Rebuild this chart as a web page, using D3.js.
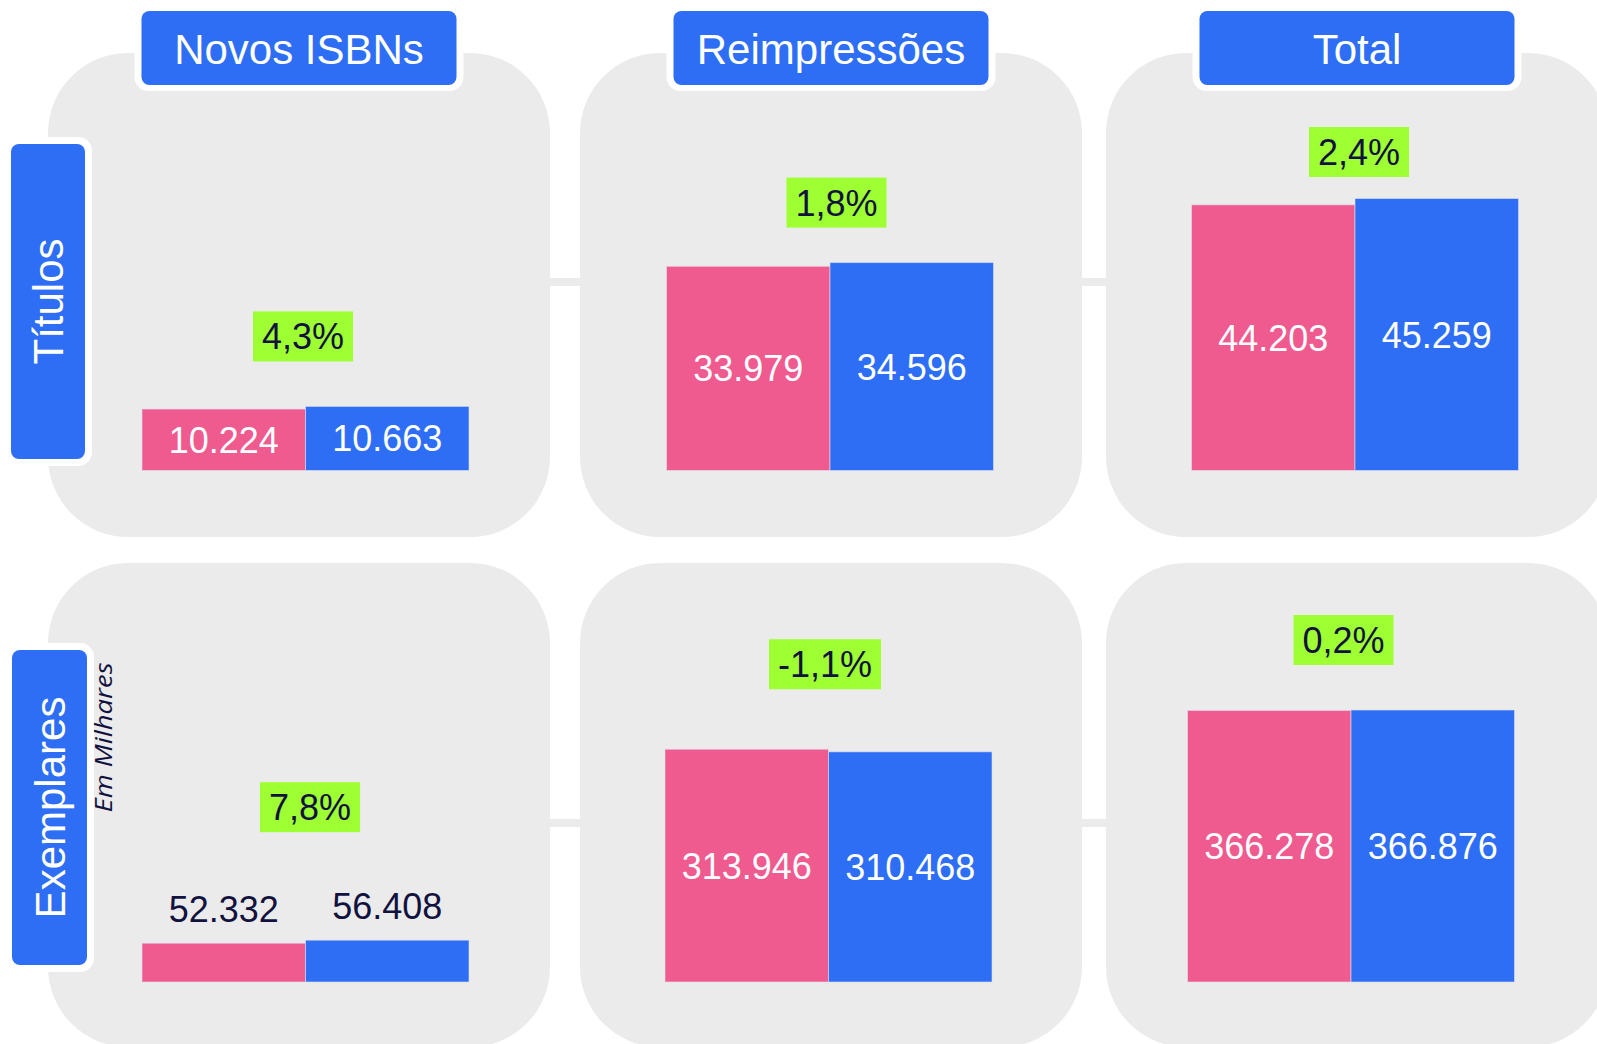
<!DOCTYPE html>
<html>
<head>
<meta charset="utf-8">
<script src="https://cdn.jsdelivr.net/npm/d3@7"></script>
<style>
  body { margin: 0; background: #fff; }
  svg { display: block; font-family: "Liberation Sans", Arial, sans-serif; }
</style>
</head>
<body>
<svg id="viz"></svg>
<script>
var width = 1597;
var height = 1044;

// data
var colunas = ["Novos ISBNs", "Reimpressões", "Total"];
var linhas = ["Títulos", "Exemplares"];
var series = ["anterior", "atual"];
var titulosAnterior = [10224, 33979, 44203];
var titulosAtual = [10663, 34596, 45259];
var exemplaresAnterior = [52332, 313946, 366278];
var exemplaresAtual = [56408, 310468, 366876];

var cores = { anterior: "#ef5a8f", atual: "#2e6ef4" };
var cinza = "#ebebeb";
var azul = "#2e6ef4";
var navy = "#12123f";
var verde = "#9eff33";

var br = d3.formatLocale({ decimal: ",", thousands: ".", grouping: [3], currency: ["R$", ""], minus: "-" });
var fmtNum = br.format(",d");
var fmtPct = br.format(".1%");

// layout (positions only)
var panelX = [48, 580, 1106];
var panelW = 502;
var panelY = [53, 563];
var panelH = 484;
var barCenter = [[305.5, 830, 1355], [305.5, 828.5, 1351]];
var baseline = [470.5, 982];
var barMaxH = 272;
var connectorY = [278, 819];
// badge offset: dx from bar center, dy above the tallest bar
var badgeOff = [[[-2.5, 70], [6.5, 60], [4, 46.5]], [[4.5, 133], [-3.5, 85], [-7.5, 70]]];

var rowsData = [
  { label: linhas[0], anterior: titulosAnterior, atual: titulosAtual },
  { label: linhas[1], anterior: exemplaresAnterior, atual: exemplaresAtual }
];

var svg = d3.select("#viz").attr("width", width).attr("height", height);

// panels + connectors
rowsData.forEach(function (row, r) {
  svg.append("g").selectAll("rect")
    .data([0, 1])
    .enter().append("rect")
      .attr("x", function (d) { return panelX[d] + panelW - 2; })
      .attr("width", function (d) { return panelX[d + 1] - panelX[d] - panelW + 4; })
      .attr("y", connectorY[r])
      .attr("height", 8)
      .attr("fill", cinza);

  svg.append("g").selectAll("rect")
    .data(colunas)
    .enter().append("rect")
      .attr("x", function (d, i) { return panelX[i]; })
      .attr("y", panelY[r])
      .attr("width", panelW)
      .attr("height", panelH)
      .attr("rx", 80)
      .attr("fill", cinza);
});

// column headers
var header = svg.append("g").selectAll("g")
  .data(colunas)
  .enter().append("g")
    .attr("transform", function (d, i) { return "translate(" + (panelX[i] + panelW / 2) + ",0)"; });
header.append("rect")
  .attr("x", -164.5).attr("y", -10).attr("width", 329).attr("height", 101)
  .attr("rx", 14).attr("fill", "#fff");
header.append("rect")
  .attr("x", -157.5).attr("y", 11).attr("width", 315).attr("height", 74)
  .attr("rx", 8).attr("fill", azul);
header.append("text")
  .attr("text-anchor", "middle")
  .attr("y", 64)
  .attr("fill", "#fff")
  .attr("font-size", 42)
  .text(function (d) { return d; });

// row labels
var rowBox = [[11, 144, 74, 315], [12, 650, 75, 315]];
var rowLab = svg.append("g").selectAll("g")
  .data(linhas)
  .enter().append("g");
rowLab.append("rect")
  .attr("x", function (d, i) { return rowBox[i][0] - 7; })
  .attr("y", function (d, i) { return rowBox[i][1] - 7; })
  .attr("width", function (d, i) { return rowBox[i][2] + 14; })
  .attr("height", function (d, i) { return rowBox[i][3] + 14; })
  .attr("rx", 14).attr("fill", "#fff");
rowLab.append("rect")
  .attr("x", function (d, i) { return rowBox[i][0]; })
  .attr("y", function (d, i) { return rowBox[i][1]; })
  .attr("width", function (d, i) { return rowBox[i][2]; })
  .attr("height", function (d, i) { return rowBox[i][3]; })
  .attr("rx", 8).attr("fill", azul);
rowLab.append("text")
  .attr("transform", function (d, i) {
    var cx = rowBox[i][0] + rowBox[i][2] / 2 + 15;
    var cy = rowBox[i][1] + rowBox[i][3] / 2;
    return "translate(" + cx + "," + cy + ") rotate(-90)";
  })
  .attr("text-anchor", "middle")
  .attr("fill", "#fff")
  .attr("font-size", 42)
  .text(function (d) { return d; });

svg.append("text")
  .attr("transform", "translate(112,737.5) rotate(-90)")
  .attr("text-anchor", "middle")
  .attr("font-style", "italic")
  .attr("font-family", "'Open Sans', sans-serif")
  .attr("font-size", 23)
  .attr("textLength", 150)
  .attr("lengthAdjust", "spacingAndGlyphs")
  .attr("fill", navy)
  .text("Em Milhares");

// bars
rowsData.forEach(function (row, r) {
  var maxV = d3.max(row.anterior.concat(row.atual));
  var y = d3.scaleLinear().domain([0, maxV]).range([baseline[r], baseline[r] - barMaxH]);

  colunas.forEach(function (col, c) {
    var cx = barCenter[r][c];
    var x = d3.scaleBand().domain(series).range([cx - 163.5, cx + 163.5]).padding(0);
    var vals = series.map(function (s) { return { s: s, v: row[s][c] }; });
    var g = svg.append("g");

    g.selectAll("rect")
      .data(vals)
      .enter().append("rect")
        .attr("x", function (d) { return x(d.s); })
        .attr("width", x.bandwidth())
        .attr("y", function (d) { return y(d.v); })
        .attr("height", function (d) { return y(0) - y(d.v); })
        .attr("fill", function (d) { return cores[d.s]; })
        .attr("stroke", "rgba(225,225,240,0.6)")
        .attr("stroke-width", 1);

    g.selectAll("text.val")
      .data(vals)
      .enter().append("text")
        .attr("class", "val")
        .attr("text-anchor", "middle")
        .attr("font-size", 36)
        .attr("x", function (d) { return x(d.s) + x.bandwidth() / 2; })
        .attr("y", function (d) {
          var h = y(0) - y(d.v);
          return h > 50 ? (y(d.v) + y(0)) / 2 + 13 : y(d.v) - 21;
        })
        .attr("fill", function (d) { return (y(0) - y(d.v)) > 50 ? "#fff" : navy; })
        .text(function (d) { return fmtNum(d.v); });

    // variation badge
    var pct = fmtPct(row.atual[c] / row.anterior[c] - 1);
    var top = y(d3.max(vals, function (d) { return d.v; }));
    var bx = cx + badgeOff[r][c][0];
    var by = top - badgeOff[r][c][1];
    var badge = g.append("g").attr("transform", "translate(" + bx + "," + by + ")");
    var bg = badge.append("rect").attr("fill", verde);
    var t = badge.append("text")
      .attr("text-anchor", "middle")
      .attr("y", 13)
      .attr("font-size", 36)
      .attr("fill", navy)
      .text(pct);
    var w = t.node().getComputedTextLength() + 18;
    bg.attr("x", -w / 2).attr("y", -25).attr("width", w).attr("height", 50);
  });
});
</script>
</body>
</html>
